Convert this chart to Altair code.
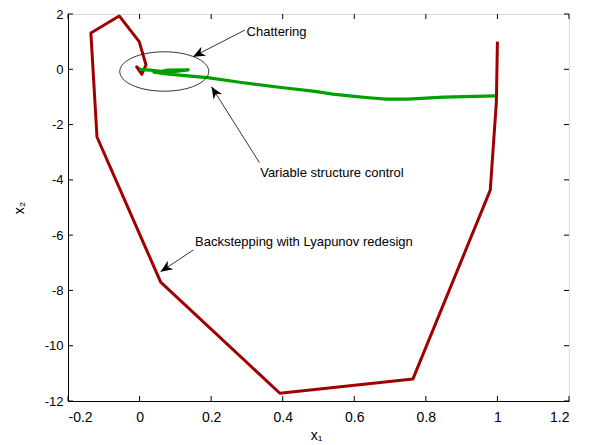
import math
import altair as alt
import pandas as pd

# ---------------- data ----------------
red_x = [1.0, 0.997, 0.98, 0.764, 0.392, 0.059, -0.119, -0.136, -0.057, -0.001, 0.018, 0.006, -0.008, 0.0]
red_y = [1.0, -1.2, -4.37, -11.2, -11.72, -7.7, -2.45, 1.31, 1.93, 1.0, 0.16, -0.18, 0.09, 0.0]

green_x = [0.994, 0.85, 0.75, 0.69, 0.64, 0.60, 0.54, 0.49, 0.39, 0.28, 0.19, 0.12,
           0.07, 0.04, 0.10, 0.136, 0.08, 0.06, 0.03, 0.0]
green_y = [-0.96, -1.01, -1.08, -1.08, -1.03, -0.98, -0.9, -0.8, -0.65, -0.47, -0.30, -0.22,
           -0.16, -0.10, -0.08, -0.02, -0.03, -0.07, -0.03, 0.0]

x_ticks = [-0.2, 0.0, 0.2, 0.4, 0.6, 0.8, 1.0, 1.2]
y_ticks = [-12, -10, -8, -6, -4, -2, 0, 2]

ann_text = ["Chattering", "Variable structure control", "Backstepping with Lyapunov redesign"]
ann_text_x = [0.299, 0.337, 0.155]
ann_text_y = [1.36, -3.76, -6.24]
arrow_tail_x = [0.2945, 0.335, 0.150]
arrow_tail_y = [1.42, -3.38, -6.54]
arrow_tip_x = [0.1494, 0.201, 0.0587]
arrow_tip_y = [0.455, -0.63, -7.32]

ellipse_x = [0.069]
ellipse_y = [-0.08]

# ---------------- layout ----------------
W, H = 501, 387
XDOM = [-0.2, 1.2]
YDOM = [-12, 2]
sx = W / (XDOM[1] - XDOM[0])
sy = H / (YDOM[1] - YDOM[0])
FONT = "Liberation Sans"
FS = 13

xs = alt.Scale(domain=XDOM, nice=False, zero=False)
ys = alt.Scale(domain=YDOM, nice=False, zero=False)

red_df = pd.DataFrame({"x": red_x, "y": red_y, "i": range(len(red_x))})
green_df = pd.DataFrame({"x": green_x, "y": green_y, "i": range(len(green_x))})
xt_df = pd.DataFrame({"x": x_ticks})
yt_df = pd.DataFrame({"y": y_ticks})

angles = []
for tx, ty, hx, hy in zip(arrow_tail_x, arrow_tail_y, arrow_tip_x, arrow_tip_y):
    dx = (hx - tx) * sx
    dy = -(hy - ty) * sy
    angles.append(math.degrees(math.atan2(dy, dx)) % 360)

arr_df = pd.DataFrame({"x": arrow_tail_x, "y": arrow_tail_y,
                       "hx": arrow_tip_x, "hy": arrow_tip_y, "ang": angles})
head_df = pd.DataFrame({"x": arrow_tip_x, "y": arrow_tip_y, "ang": angles})
txt_df = pd.DataFrame({"t": ann_text, "x": ann_text_x, "y": ann_text_y})
ell_df = pd.DataFrame({"x": ellipse_x, "y": ellipse_y})

common = dict(domain=True, domainColor="black", domainWidth=1, ticks=False, grid=False,
              labelFont=FONT, labelColor="black",
              titleFont=FONT, titleFontSize=14, titleFontWeight="normal", titleColor="black",
              labelExpr="replace(datum.label, '\u2212', '-')")

xaxis = alt.Axis(values=x_ticks, format=".1~f", title="x\u2081", titleX=248, titleY=34,
                 titleBaseline="middle", labelPadding=9, labelFontSize=14, **common)
yaxis = alt.Axis(values=y_ticks, format="d", title="x\u2082", titleX=-49, titleY=H / 2,
                 titleBaseline="middle", titleAngle=270, labelPadding=5, labelFontSize=13,
                 **common)

X = alt.X("x:Q", scale=xs, axis=xaxis)
Y = alt.Y("y:Q", scale=ys, axis=yaxis)

red = alt.Chart(red_df).mark_line(color="#A00000", strokeWidth=3, strokeJoin="round").encode(
    x=X, y=Y, order="i:Q")
green = alt.Chart(green_df).mark_line(color="#00A000", strokeWidth=3.2, strokeJoin="round").encode(
    x=X, y=Y, order="i:Q")

ell_shape = "M-1,0A1,0.443,0,1,1,1,0A1,0.443,0,1,1,-1,0Z"
ellipse = alt.Chart(ell_df).mark_point(shape=ell_shape, size=89 * 89, filled=False,
                                       color="black", strokeWidth=0.8, opacity=1).encode(x=X, y=Y)

arrow_lines = alt.Chart(arr_df).mark_rule(color="black", strokeWidth=0.8).encode(
    x=X, y=Y, x2="hx:Q", y2="hy:Q")

head_shape = "M0,0L-1,-0.42L-0.7,0L-1,0.42Z"
heads = alt.Chart(head_df).mark_point(shape=head_shape, size=576, filled=True,
                                      color="black", opacity=1, strokeWidth=0).encode(
    x=X, y=Y, angle=alt.Angle("ang:Q", scale=None))

texts = alt.Chart(txt_df).mark_text(align="left", baseline="middle", font=FONT,
                                    fontSize=FS, color="black").encode(x=X, y=Y, text="t:N")

TL = 5
tick_b = alt.Chart(xt_df).mark_rule(color="black", strokeWidth=1).encode(
    x=X, y=alt.value(H), y2=alt.value(H - TL))
tick_t = alt.Chart(xt_df).mark_rule(color="black", strokeWidth=1).encode(
    x=X, y=alt.value(0), y2=alt.value(TL))
tick_l = alt.Chart(yt_df).mark_rule(color="black", strokeWidth=1).encode(
    y=Y, x=alt.value(0), x2=alt.value(TL))
tick_r = alt.Chart(yt_df).mark_rule(color="black", strokeWidth=1).encode(
    y=Y, x=alt.value(W), x2=alt.value(W - TL))

chart = alt.layer(
    red, tick_b, tick_t, tick_l, tick_r, green, ellipse, arrow_lines, heads, texts
).properties(
    width=W, height=H,
    autosize=alt.AutoSizeParams(type="none"),
    padding={"left": 60, "top": 6, "right": 12, "bottom": 42},
).configure_view(
    stroke="black", strokeWidth=1
).configure(background="white")

chart.save("out.html", embed_options={"renderer": "svg", "actions": False})
